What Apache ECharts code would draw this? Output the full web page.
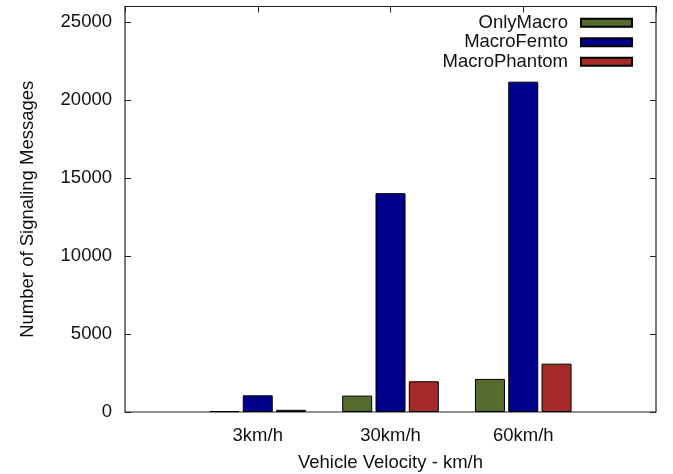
<!DOCTYPE html>
<html>
<head>
<meta charset="utf-8">
<script src="https://cdn.jsdelivr.net/npm/echarts@6/dist/echarts.min.js"></script>
<style>html,body{margin:0;padding:0;background:#fff}#c{width:673px;height:474px}</style>
</head>
<body>
<div id="c"></div>
<script>
const categories = ['3km/h', '30km/h', '60km/h'];
const seriesNames = ['OnlyMacro', 'MacroFemto', 'MacroPhantom'];
const onlyMacro = [60, 1050, 2120];
const macroFemto = [1070, 14030, 21180];
const macroPhantom = [140, 1970, 3100];
const yTicks = [0, 5000, 10000, 15000, 20000, 25000];

const colors = ['#556b2f', '#00008b', '#a52a2a'];
const font = 'Liberation Sans, Arial, Helvetica, sans-serif';
const fs = 18.5;
const txt = '#111';

// pad with empty slots at x = -1 and x = 3 (frame edges)
const axisCats = [''].concat(categories).concat(['']);
const pad = arr => [null].concat(arr).concat([null]);

const chart = echarts.init(document.getElementById('c'), null, {renderer: 'canvas'});
const yMax = 26000;
const yInterval = yTicks[1] - yTicks[0];

const mkSeries = (name, data, i) => ({
  name: name,
  type: 'bar',
  data: pad(data),
  barWidth: 30,
  barGap: '11%',
  itemStyle: {color: colors[i], borderColor: '#000', borderWidth: 1},
  emphasis: {disabled: true},
  animation: false
});

chart.setOption({
  animation: false,
  textStyle: {fontFamily: font},
  grid: {left: 125, right: 17, top: 6.5, bottom: 62, outerBoundsMode: 'none', containLabel: false, show: true, borderColor: '#222', borderWidth: 1.2, backgroundColor: 'transparent'},
  legend: {
    orient: 'vertical',
    right: 40,
    top: 13,
    padding: 0,
    align: 'right',
    itemWidth: 51,
    itemHeight: 8,
    itemGap: 0,
    icon: 'rect',
    data: seriesNames,
    textStyle: {fontSize: fs, color: txt, fontFamily: font, lineHeight: 19.5, padding: [0, 8, 0, 0]},
    selectedMode: false
  },
  xAxis: [
    {
      type: 'category',
      data: axisCats,
      boundaryGap: false,
      axisLine: {show: false, onZero: false},
      axisTick: {show: false},
      splitLine: {show: false},
      axisLabel: {interval: 0, fontSize: fs, color: txt, fontFamily: font, margin: 14},
      name: 'Vehicle Velocity - km/h',
      nameLocation: 'middle',
      nameGap: 41,
      nameTextStyle: {fontSize: fs, color: txt, fontFamily: font}
    },
    {
      type: 'category',
      data: axisCats,
      boundaryGap: false,
      position: 'top',
      axisLine: {show: false, onZero: false},
      axisTick: {show: true, inside: true, length: 6, interval: 0, lineStyle: {color: '#222'}},
      axisLabel: {show: false},
      splitLine: {show: false}
    }
  ],
  yAxis: [
    {
      type: 'value',
      min: 0,
      max: yMax,
      interval: yInterval,
      axisLine: {show: false, onZero: false},
      axisTick: {show: true, inside: true, length: 6, lineStyle: {color: '#222'}},
      splitLine: {show: false},
      axisLabel: {fontSize: fs, color: txt, fontFamily: font, margin: 13, showMaxLabel: false, formatter: v => String(v)},
      name: 'Number of Signaling Messages',
      nameLocation: 'middle',
      nameGap: 88,
      nameTextStyle: {fontSize: fs, color: txt, fontFamily: font}
    },
    {
      type: 'value',
      min: 0,
      max: yMax,
      interval: yInterval,
      position: 'right',
      axisLine: {show: false, onZero: false},
      axisTick: {show: true, inside: true, length: 6, lineStyle: {color: '#222'}},
      splitLine: {show: false},
      axisLabel: {show: false}
    }
  ],
  series: [
    mkSeries(seriesNames[0], onlyMacro, 0),
    mkSeries(seriesNames[1], macroFemto, 1),
    mkSeries(seriesNames[2], macroPhantom, 2)
  ]
});
</script>
</body>
</html>
